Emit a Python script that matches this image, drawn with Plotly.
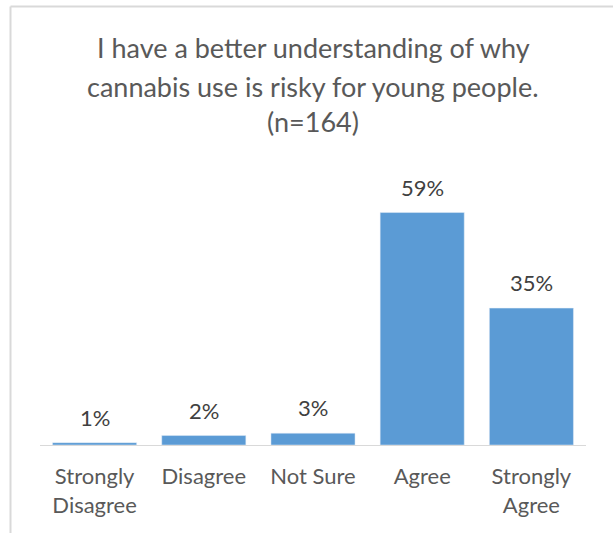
import plotly.graph_objects as go

categories = ["Strongly<br>Disagree", "Disagree", "Not Sure", "Agree", "Strongly<br>Agree"]
values = [0.6, 2.4, 3.0, 59.1, 34.8]
labels = ["1%", "2%", "3%", "59%", "35%"]
title_lines = ["I have a better understanding of why",
               "cannabis use is risky for young people.",
               "(n=164)"]

W, H = 613, 533
L, R, T, B = 40, 27, 150, 88
plot_h = H - T - B
plot_w = W - L - R

fig = go.Figure()
fig.add_trace(go.Bar(
    x=categories, y=values, marker_color="#5B9BD5", width=0.77,
    hoverinfo="skip"))

for c, v, lab in zip(categories, values, labels):
    fig.add_annotation(x=c, y=v, text=lab, showarrow=False, yanchor="bottom",
                       yshift=10, font=dict(family="Lato", size=22, color="#404040"))

title_y_px = [48, 86, 122]
for line, py in zip(title_lines, title_y_px):
    fig.add_annotation(xref="paper", yref="paper", x=(313 - L) / plot_w,
                       y=(H - B - py) / plot_h, text=line, showarrow=False,
                       yanchor="middle", xanchor="center",
                       font=dict(family="Lato", size=27, color="#595959"))

# chart border (left and top edges visible)
bx = (10.5 - L) / plot_w
by = (H - B - 6.5) / plot_h
fig.add_shape(type="line", xref="paper", yref="paper", x0=bx, x1=bx,
              y0=(H - B - 560) / plot_h, y1=by, line=dict(color="#D9D9D9", width=2))
fig.add_shape(type="line", xref="paper", yref="paper", x0=bx, x1=(640 - L) / plot_w,
              y0=by, y1=by, line=dict(color="#D9D9D9", width=2))

fig.update_layout(
    width=W, height=H, margin=dict(l=L, r=R, t=T, b=B),
    paper_bgcolor="white", plot_bgcolor="white", showlegend=False,
    bargap=0.23,
)
fig.update_xaxes(range=[-0.5, 4.5], showline=True, linecolor="#D9D9D9", linewidth=1,
                 ticks="", ticklabelstandoff=12,
                 tickfont=dict(family="Lato", size=22, color="#595959"))
fig.update_yaxes(range=[0, 75], visible=False, showgrid=False)

fig.write_html("out.html", config={"displayModeBar": False},
               post_script="document.body.style.margin='0';document.body.style.overflow='hidden';")
